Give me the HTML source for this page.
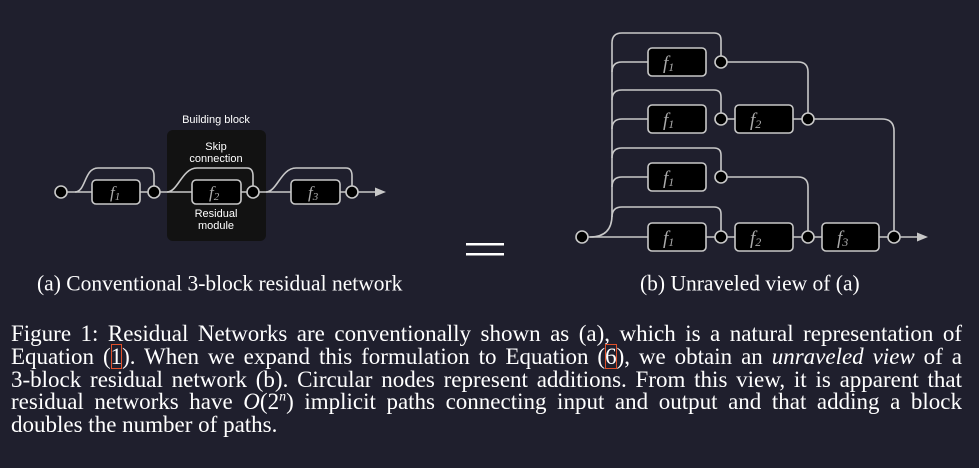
<!DOCTYPE html>
<html><head><meta charset="utf-8"><style>
html,body{margin:0;padding:0;background:#1f1f2d;width:979px;height:468px;overflow:hidden}
.cap{position:absolute;top:271px;font-family:"Liberation Serif",serif;font-size:21.5px;color:#fff;white-space:nowrap;transform:scaleY(1.05)}
#fig{position:absolute;left:11px;top:323px;width:951px;font-family:"Liberation Serif",serif;font-size:23px;line-height:22.8px;color:#fff}
#fig div{text-align:justify;text-align-last:justify;white-space:nowrap}
#fig div.l{text-align-last:left}
.r{outline:1.5px solid #e0502a;outline-offset:-1px}
</style></head><body>
<svg width="979" height="300" style="position:absolute;left:0;top:0" font-family="Liberation Sans, sans-serif">
<rect x="167" y="130" width="99" height="111" rx="6" fill="#121212"/>
<text x="216" y="123" fill="#fff" font-size="11" text-anchor="middle">Building block</text>
<text x="216" y="150" fill="#fff" font-size="11" text-anchor="middle">Skip</text>
<text x="216" y="162" fill="#fff" font-size="11" text-anchor="middle">connection</text>
<text x="216" y="217" fill="#fff" font-size="11" text-anchor="middle">Residual</text>
<text x="216" y="229" fill="#fff" font-size="11" text-anchor="middle">module</text>
<g fill="none" stroke="#c8c8c8" stroke-width="1.6">
<line x1="61" y1="192" x2="380" y2="192"/>
<path d="M75 192 C86 192 84 168 98 168 L148 168 Q154 168 154 176 L154 186"/>
<path d="M167 192 C178 192 182 168 197 168 L247 168 Q253 168 253 176 L253 186"/>
<path d="M266 192 C277 192 281 168 296 168 L346 168 Q352 168 352 176 L352 186"/>
</g>
<polygon points="386,192 375,187.5 375,196.5" fill="#c8c8c8"/>
<g stroke="#c8c8c8" stroke-width="1.6" fill="#000">
<circle cx="61" cy="192" r="6"/>
<rect x="92" y="180" width="48" height="24" rx="4"/><circle cx="154" cy="192" r="6"/>
<rect x="192" y="180" width="49" height="24" rx="4"/><circle cx="253" cy="192" r="6"/>
<rect x="291" y="180" width="49" height="24" rx="4"/><circle cx="352" cy="192" r="6"/>
</g>
<g fill="#aaa" font-family="Liberation Serif, serif" font-style="italic" font-size="17">
<text x="110" y="198">f<tspan font-size="11" dy="2">1</tspan></text>
<text x="209" y="198">f<tspan font-size="11" dy="2">2</tspan></text>
<text x="308" y="198">f<tspan font-size="11" dy="2">3</tspan></text>
</g>
<rect x="466" y="243" width="38" height="2.5" fill="#fff"/>
<rect x="466" y="253" width="38" height="2.5" fill="#fff"/>
<g fill="none" stroke="#c8c8c8" stroke-width="1.6">
<line x1="582" y1="237" x2="922" y2="237"/>
<path d="M590 237 Q612 237 612 215 L612 43 Q612 33 622 33 L714 33 Q721 33 721 40 L721 56"/>
<path d="M612 72 Q612 62 622 62 L648 62"/>
<path d="M612 100 Q612 90 622 90 L714 90 Q721 90 721 97 L721 113"/>
<path d="M612 129 Q612 119 622 119 L648 119"/>
<path d="M612 158 Q612 148 622 148 L714 148 Q721 148 721 155 L721 171"/>
<path d="M612 187 Q612 177 622 177 L648 177"/>
<path d="M612 217 Q612 207 622 207 L714 207 Q721 207 721 214 L721 231"/>
<path d="M721 62 L798 62 Q808 62 808 72 L808 113"/>
<path d="M721 119 L735 119 M793 119 L808 119"/>
<path d="M808 119 L882 119 Q894 119 894 131 L894 231"/>
<path d="M721 177 L798 177 Q808 177 808 187 L808 231"/>
</g>
<polygon points="928,237 917,232.5 917,241.5" fill="#c8c8c8"/>
<g stroke="#c8c8c8" stroke-width="1.6" fill="#000">
<circle cx="582" cy="237" r="6"/>
<rect x="648" y="48" width="58" height="28" rx="4"/><circle cx="721" cy="62" r="6"/>
<rect x="648" y="105" width="58" height="28" rx="4"/><circle cx="721" cy="119" r="6"/>
<rect x="735" y="105" width="58" height="28" rx="4"/><circle cx="808" cy="119" r="6"/>
<rect x="648" y="163" width="58" height="28" rx="4"/><circle cx="721" cy="177" r="6"/>
<rect x="648" y="223" width="58" height="28" rx="4"/><circle cx="721" cy="237" r="6"/>
<rect x="735" y="223" width="58" height="28" rx="4"/><circle cx="808" cy="237" r="6"/>
<rect x="822" y="223" width="57" height="28" rx="4"/><circle cx="894" cy="237" r="6"/>
</g>
<g fill="#aaa" font-family="Liberation Serif, serif" font-style="italic" font-size="19">
<text x="663" y="69">f<tspan font-size="12" dy="2">1</tspan></text>
<text x="663" y="126">f<tspan font-size="12" dy="2">1</tspan></text>
<text x="750" y="126">f<tspan font-size="12" dy="2">2</tspan></text>
<text x="663" y="184">f<tspan font-size="12" dy="2">1</tspan></text>
<text x="663" y="244">f<tspan font-size="12" dy="2">1</tspan></text>
<text x="750" y="244">f<tspan font-size="12" dy="2">2</tspan></text>
<text x="837" y="244">f<tspan font-size="12" dy="2">3</tspan></text>
</g>
</svg>
<div class="cap" style="left:37px">(a) Conventional 3-block residual network</div>
<div class="cap" style="left:640px">(b) Unraveled view of (a)</div>
<div id="fig">
<div>Figure 1: Residual Networks are conventionally shown as (a), which is a natural representation of</div>
<div>Equation (<span class="r">1</span>). When we expand this formulation to Equation (<span class="r">6</span>), we obtain an <i>unraveled view</i> of a</div>
<div>3-block residual network (b). Circular nodes represent additions. From this view, it is apparent that</div>
<div>residual networks have <i>O</i>(2<sup style="font-size:14px;line-height:0"><i>n</i></sup>) implicit paths connecting input and output and that adding a block</div>
<div class="l">doubles the number of paths.</div>
</div>
</body></html>
